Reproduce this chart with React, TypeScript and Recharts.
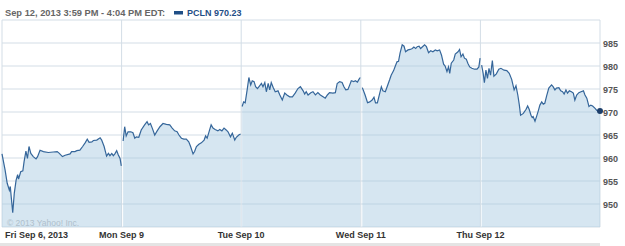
import { Area, AreaChart, CartesianGrid, XAxis, YAxis } from "recharts";

// [minutes after the 9:30 open, price]
type Quote = [number, number];

const sessionMinutes = 390;
const dayLabels = ["Fri Sep 6, 2013", "Mon Sep 9", "Tue Sep 10", "Wed Sep 11", "Thu Sep 12", ""];
const priceTicks = [945, 950, 955, 960, 965, 970, 975, 980, 985, 990];
const headerText = "Sep 12, 2013 3:59 PM - 4:04 PM EDT:";
const symbol = "PCLN";
const lastPrice = 970.23;

const fri: Quote[] = [
  [0, 960.9], [10, 957.4], [17, 954.5], [24, 953.0], [27, 953.8], [30, 951.6], [35, 948.1],
  [40, 952.3], [46, 955.2], [51, 956.4], [54, 955.4], [61, 957.0], [68, 957.2], [72, 959.2],
  [78, 961.5], [83, 959.9], [88, 962.5], [94, 961.0], [102, 960.3], [111, 959.8], [116, 960.3],
  [124, 961.7], [135, 961.4], [151, 961.2], [167, 961.3], [180, 961.4], [187, 961.0], [197, 960.3],
  [206, 960.6], [222, 960.9], [227, 961.4], [238, 961.4], [244, 961.6], [254, 961.7], [263, 962.5],
  [271, 963.3], [278, 964.1], [284, 963.4], [293, 963.5], [298, 963.8], [309, 963.9], [320, 964.4],
  [325, 963.9], [333, 962.5], [341, 960.4], [347, 961.0], [352, 960.5], [358, 961.0], [363, 960.5],
  [368, 960.9], [374, 961.6], [379, 960.7], [385, 959.9], [389, 958.3],
];

const mon: Quote[] = [
  [5, 963.7], [10, 966.8], [15, 964.8], [21, 965.7], [30, 965.7], [37, 965.5], [43, 964.3],
  [48, 964.6], [56, 964.5], [64, 966.1], [75, 967.2], [83, 967.9], [88, 967.2], [94, 967.5],
  [100, 966.5], [108, 965.0], [116, 965.9], [125, 966.8], [135, 967.5], [146, 967.3], [157, 967.2],
  [165, 966.5], [173, 965.9], [181, 965.7], [187, 965.0], [195, 964.3], [203, 964.1], [211, 964.1],
  [219, 963.5], [225, 962.5], [233, 960.9], [238, 961.4], [244, 962.5], [252, 963.0], [260, 963.3],
  [269, 963.9], [274, 964.8], [279, 964.3], [287, 966.1], [292, 967.2], [298, 966.5], [305, 966.2],
  [314, 965.9], [320, 966.2], [327, 965.9], [334, 966.5], [341, 966.1], [347, 965.7], [355, 964.6],
  [361, 965.4], [369, 963.9], [374, 964.5], [382, 965.0], [388, 965.2],
];

const tue: Quote[] = [
  [3, 971.2], [8, 972.2], [13, 972.0], [20, 975.1], [25, 977.5], [31, 975.9], [36, 976.8],
  [42, 976.6], [47, 975.5], [53, 975.1], [60, 975.7], [66, 976.2], [71, 975.5], [77, 976.4],
  [82, 974.4], [88, 976.2], [93, 974.8], [98, 976.4], [104, 975.4], [111, 974.4], [120, 974.6],
  [126, 973.7], [134, 972.6], [142, 974.1], [149, 973.7], [158, 973.3], [167, 973.3], [176, 974.1],
  [185, 975.1], [193, 975.5], [202, 974.6], [207, 973.9], [212, 974.4], [218, 973.7], [227, 974.2],
  [234, 974.4], [242, 973.7], [250, 974.2], [258, 973.7], [267, 973.3], [274, 973.0], [281, 973.7],
  [288, 974.2], [299, 974.1], [307, 974.2], [313, 976.2], [321, 976.6], [329, 976.4], [335, 975.5],
  [341, 974.8], [348, 974.9], [354, 975.9], [359, 976.8], [367, 976.6], [372, 976.8], [379, 976.5],
  [384, 977.1], [388, 977.5],
];

const wed: Quote[] = [
  [5, 975.3], [14, 973.7], [22, 972.0], [29, 972.2], [37, 972.6], [43, 973.2], [48, 972.0],
  [54, 972.0], [61, 973.9], [67, 975.5], [72, 974.6], [80, 974.4], [87, 975.7], [94, 977.0],
  [99, 978.0], [107, 979.0], [112, 979.9], [118, 980.9], [123, 981.0], [128, 982.8], [135, 984.6],
  [141, 984.3], [146, 983.1], [154, 983.5], [161, 983.6], [168, 983.8], [173, 984.1], [179, 983.8],
  [184, 984.2], [190, 984.3], [195, 983.8], [203, 984.3], [208, 984.6], [214, 984.2], [221, 982.9],
  [228, 983.3], [235, 983.1], [243, 983.5], [249, 983.3], [257, 983.5], [263, 982.4], [270, 980.4],
  [275, 980.0], [281, 978.8], [286, 979.8], [290, 978.4], [295, 980.6], [303, 981.3], [308, 982.6],
  [317, 983.1], [322, 983.6], [327, 982.0], [333, 982.6], [338, 981.7], [344, 981.5], [349, 980.6],
  [355, 979.8], [362, 979.5], [371, 979.3], [379, 979.3], [385, 979.8], [389, 981.7],
];

const thu: Quote[] = [
  [4, 980.2], [9, 978.4], [13, 976.4], [18, 979.1], [23, 977.3], [28, 979.5], [33, 978.0],
  [39, 981.2], [44, 977.8], [52, 978.3], [60, 979.3], [67, 979.5], [77, 979.1], [86, 979.0],
  [94, 978.4], [102, 977.1], [110, 974.8], [116, 975.7], [122, 973.7], [127, 971.5], [131, 969.3],
  [140, 969.7], [149, 970.6], [154, 971.3], [159, 970.6], [165, 969.3], [169, 968.8], [172, 969.0],
  [178, 968.0], [183, 969.0], [189, 970.3], [194, 971.5], [200, 972.2], [205, 971.7], [210, 971.9],
  [216, 973.5], [223, 975.2], [232, 975.9], [237, 975.5], [243, 974.8], [248, 975.2], [256, 975.3],
  [262, 974.6], [268, 974.4], [273, 973.9], [279, 974.8], [284, 974.1], [290, 974.6], [297, 974.4],
  [303, 974.1], [308, 972.6], [314, 973.7], [321, 974.2], [328, 974.4], [336, 974.6], [341, 973.7],
  [347, 973.0], [354, 971.2], [360, 971.5], [366, 971.3], [374, 970.8], [379, 970.4], [387, 970.1],
  [390, 970.23],
];

const days = [fri, mon, tue, wed, thu];

// one row per quote, with a null between sessions so each day is its own segment
const data = days.flatMap((day, k) => {
  const rows: { t: number; price: number | null }[] = day.map(([m, p]) => ({
    t: k * sessionMinutes + m,
    price: p,
  }));
  if (k < days.length - 1) rows.push({ t: (k + 1) * sessionMinutes, price: null });
  return rows;
});

const dayTicks = dayLabels.map((_, i) => i * sessionMinutes);
const font = "'Liberation Sans', Arial, sans-serif";
const lineColor = "#35669a";

const DayTick = ({ x, y, payload }: any) => {
  const i = Math.round(payload.value / sessionMinutes);
  const first = i === 0;
  return (
    <text
      x={first ? x + 3 : x}
      y={y + 2.5}
      textAnchor={first ? "start" : "middle"}
      fontFamily={font}
      fontSize={9}
      fontWeight="bold"
      fill="#333"
    >
      {dayLabels[i]}
    </text>
  );
};

const PriceTick = ({ x, y, payload }: any) => {
  if (payload.value === priceTicks[0] || payload.value === priceTicks[priceTicks.length - 1]) return <g />;
  return (
    <text x={x - 5} y={y + 3.5} textAnchor="start" fontFamily={font} fontSize={9} fontWeight="bold" fill="#555">
      {payload.value}
    </text>
  );
};

const EndDot = (props: any) => {
  const { cx, cy, index } = props;
  if (index !== data.length - 1) return <g key={`dot-${index}`} />;
  return <circle key={`dot-${index}`} cx={cx} cy={cy} r={3} fill="#1d3f6b" />;
};

export default function App() {
  return (
    <div style={{ position: "absolute", left: 0, top: 0, width: 625, height: 246, background: "#fff" }}>
      <AreaChart width={625} height={246} data={data} margin={{ top: 20, right: 0, bottom: 0, left: 2 }}>
        <CartesianGrid stroke="#d3dde6" strokeWidth={1} />
        <XAxis
          dataKey="t"
          type="number"
          domain={[0, days.length * sessionMinutes]}
          ticks={dayTicks}
          tick={<DayTick />}
          tickLine={false}
          axisLine={false}
          height={19}
          interval={0}
        />
        <YAxis
          orientation="right"
          type="number"
          domain={[priceTicks[0], priceTicks[priceTicks.length - 1]]}
          ticks={priceTicks}
          tick={<PriceTick />}
          tickLine={false}
          axisLine={false}
          width={25}
          interval={0}
        />
        <Area
          type="linear"
          dataKey="price"
          stroke={lineColor}
          strokeWidth={1.2}
          fill="#a4c8e0"
          fillOpacity={0.45}
          dot={EndDot}
          activeDot={false}
          isAnimationActive={false}
        />
      </AreaChart>
      <svg width={625} height={246} style={{ position: "absolute", left: 0, top: 0, pointerEvents: "none" }}>
        <text x={5} y={15.5} fontFamily={font} fontSize={9.3} fontWeight="bold" fill="#666">
          {headerText}
        </text>
        <rect x={174} y={11} width={9} height={3.5} fill="#1f4e86" />
        <text x={187} y={15.5} fontFamily={font} fontSize={9} fontWeight="bold" fill="#1f4e86">
          {`${symbol} ${lastPrice.toFixed(2)}`}
        </text>
        <text x={7} y={225.5} fontFamily={font} fontSize={8.5} fill="#aebfcc">
          © 2013 Yahoo! Inc.
        </text>
        <rect x={0} y={243} width={600} height={3} fill="#e4e4e4" />
      </svg>
    </div>
  );
}
